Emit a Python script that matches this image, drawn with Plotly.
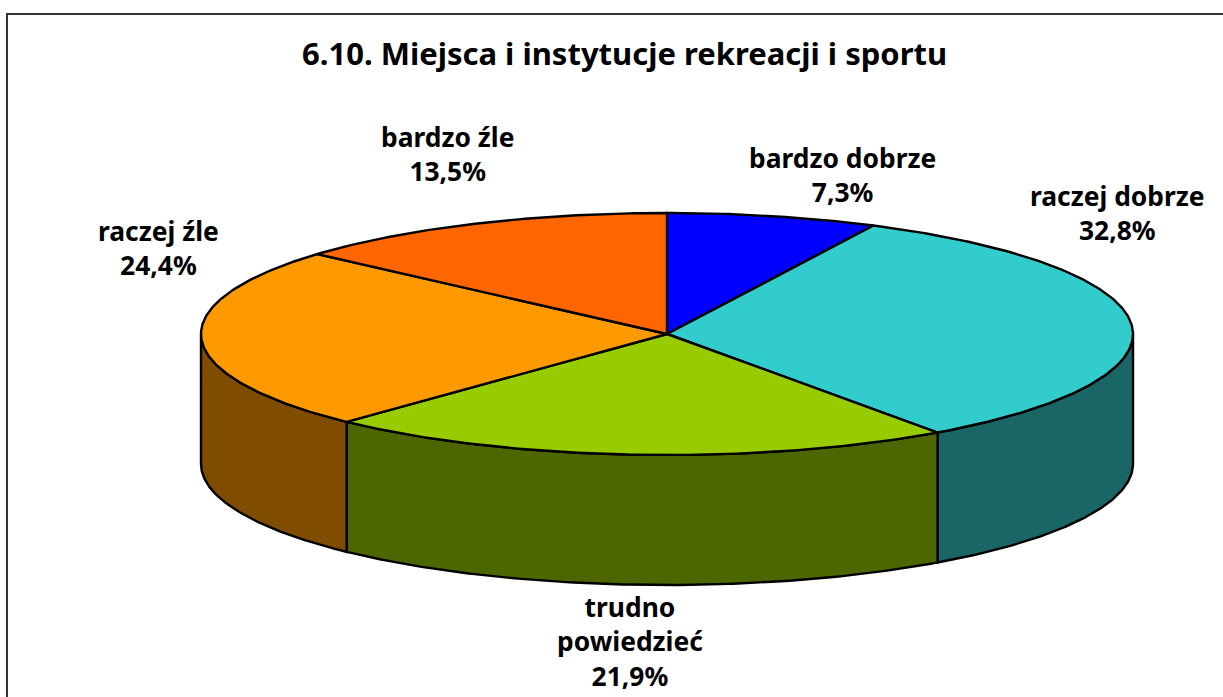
import numpy as np
import plotly.graph_objects as go

title = "6.10. Miejsca i instytucje rekreacji i sportu"
categories = ["bardzo dobrze", "raczej dobrze", "trudno<br>powiedzieć", "raczej źle", "bardzo źle"]
shares = [7.3, 32.8, 21.9, 24.4, 13.5]
top_colors = ["#0000FF", "#33CCCC", "#99CC00", "#FF9900", "#FF6600"]
side_colors = ["#00007F", "#1A6666", "#4D6600", "#804C00", "#803300"]
label_x = [842, 1117, 630, 158, 447]
label_y = [175, 213, 641, 248, 154]

CX, CY, RX, RY, DEPTH = 667, 334, 466, 121, 130
W, H = 1223, 697
FONT = "Noto Sans"


def rim(a0, a1, dy=0):
    t = np.radians(np.linspace(a0, a1, max(2, int(abs(a1 - a0)) * 2 + 1)))
    return CX + RX * np.sin(t), CY - RY * np.cos(t) + dy


fig = go.Figure()
edges = np.concatenate([[0], np.cumsum(shares)]) / sum(shares) * 360


def add_poly(x, y, color):
    fig.add_trace(go.Scatter(
        x=np.append(x, x[0]), y=np.append(y, y[0]), mode="lines", fill="toself",
        fillcolor=color, line=dict(color="black", width=2.4), hoverinfo="skip", showlegend=False,
    ))


# visible outer wall of each slice (front half of the ellipse)
for i in range(len(shares)):
    a0, a1 = max(edges[i], 90), min(edges[i + 1], 270)
    if a1 > a0:
        xt, yt = rim(a0, a1)
        xb, yb = rim(a1, a0, DEPTH)
        add_poly(np.r_[xt, xb], np.r_[yt, yb], side_colors[i])

# top face
for i in range(len(shares)):
    xt, yt = rim(edges[i], edges[i + 1])
    add_poly(np.r_[CX, xt], np.r_[CY, yt], top_colors[i])

for name, share, x, y in zip(categories, shares, label_x, label_y):
    fig.add_annotation(
        x=x, y=y, xref="x", yref="y", showarrow=False, align="center",
        text=f"<b>{name}<br>{share:.1f}%</b>".replace(".", ","),
        font=dict(family=FONT, size=26.4, color="black"),
    )

fig.add_annotation(
    x=624, y=53, xref="x", yref="y", showarrow=False,
    text=f"<b>{title}</b>", font=dict(family=FONT, size=31, color="black"),
)

fig.update_layout(
    width=W, height=H, margin=dict(l=0, r=0, t=0, b=0), autosize=False,
    paper_bgcolor="white", plot_bgcolor="white", showlegend=False,
    xaxis=dict(range=[0, W], visible=False, fixedrange=True),
    yaxis=dict(range=[H, 0], visible=False, fixedrange=True),
    shapes=[dict(type="rect", xref="x", yref="y", x0=7, y0=14, x1=W + 10, y1=H + 10,
                 line=dict(color="#333333", width=2), layer="below")],
)
fig.write_html("out.html", config={"displayModeBar": False},
               post_script="document.body.style.margin='0';document.body.style.overflow='hidden';")
